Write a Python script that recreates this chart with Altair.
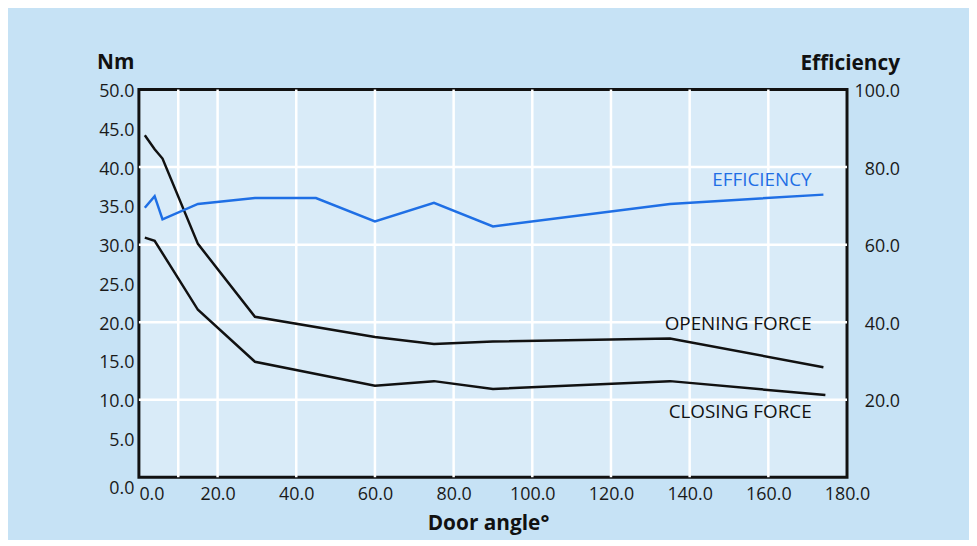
import altair as alt
import pandas as pd

# ---- data ----
open_angle = [1.5, 4, 6, 15, 29.5, 60, 75, 90, 135, 174]
opening_force = [44.1, 42.3, 41.1, 30.1, 20.7, 18.1, 17.2, 17.5, 17.9, 14.2]

close_angle = [1.5, 4, 15, 29.5, 60, 75, 90, 135, 174.5]
closing_force = [30.9, 30.5, 21.6, 14.9, 11.8, 12.4, 11.4, 12.4, 10.6]

eff_angle = [1.5, 4, 6, 15, 29.5, 45, 60, 75, 90, 135, 174]
efficiency = [69.5, 72.5, 66.5, 70.5, 72.0, 72.0, 66.0, 70.8, 64.7, 70.5, 72.9]

x_ticks = [0, 20, 40, 60, 80, 100, 120, 140, 160, 180]
x_grid = [10, 20, 40, 60, 80, 100, 120, 140, 160]
nm_ticks = [0, 5, 10, 15, 20, 25, 30, 35, 40, 45, 50]
nm_grid = [10, 20, 30, 40]
eff_ticks = [20, 40, 60, 80, 100]

series_labels = ["EFFICIENCY", "OPENING FORCE", "CLOSING FORCE"]
label_angle = [171, 171, 171]
label_nm = [37.5, 19.05, 7.7]
label_color = ["#1f6fe5", "#111111", "#111111"]

FONT = "Open Sans"
BLUE = "#1f6fe5"

df_open = pd.DataFrame({"angle": open_angle, "nm": opening_force})
df_close = pd.DataFrame({"angle": close_angle, "nm": closing_force})
df_eff = pd.DataFrame({"angle": eff_angle, "eff": efficiency})
df_gx = pd.DataFrame({"angle": x_grid})
df_gy = pd.DataFrame({"nm": nm_grid})
df_lab = pd.DataFrame({"label": series_labels, "angle": label_angle,
                       "nm": label_nm, "color": label_color})

x_scale = alt.Scale(domain=[0, 180], nice=False, zero=False)
nm_scale = alt.Scale(domain=[0, 50], nice=False)
eff_scale = alt.Scale(domain=[0, 100], nice=False)

x_axis = alt.Axis(
    values=x_ticks, format=".1f", grid=False, domain=False, ticks=False,
    labelFont=FONT, labelFontSize=18, labelColor="#1a1a1a",
    labelPadding=8, labelBaseline="top",
    labelAlign={"expr": "datum.value === 0 ? 'left' : 'center'"},
    title="Door angle°", titleFont=FONT, titleFontSize=21, titleFontWeight="bold",
    titleColor="#111111", titleAngle=0, titleAlign="center",
    titleBaseline="alphabetic", titleX=352, titleY=53,
)

nm_axis = alt.Axis(
    values=nm_ticks, format=".1f", grid=False, domain=False, ticks=False,
    labelFont=FONT, labelFontSize=18, labelColor="#1a1a1a", labelPadding=5,
    labelBaseline={"expr": "datum.value === 0 ? 'top' : 'middle'"},
    labelOffset=2,
    title="Nm", titleFont=FONT, titleFontSize=21, titleFontWeight="bold",
    titleColor="#111111", titleAngle=0, titleAlign="right",
    titleBaseline="alphabetic", titleX=-5, titleY=-21,
)

eff_axis = alt.Axis(
    orient="right", values=eff_ticks, format=".1f", grid=False, domain=False,
    ticks=False, labelFont=FONT, labelFontSize=18, labelColor="#1a1a1a",
    labelAlign="right", labelPadding=53, labelBaseline="middle", labelOffset=2,
    title="Efficiency", titleFont=FONT, titleFontSize=21, titleFontWeight="bold",
    titleColor="#111111", titleAngle=0, titleAlign="right",
    titleBaseline="alphabetic", titleX=53, titleY=-20,
)

X = alt.X("angle:Q", scale=x_scale, axis=x_axis)
Y_NM = alt.Y("nm:Q", scale=nm_scale, axis=nm_axis)

grid_v = alt.Chart(df_gx).mark_rule(color="white", strokeWidth=2.5).encode(x=X)
grid_h = alt.Chart(df_gy).mark_rule(color="white", strokeWidth=2.5).encode(y=Y_NM)
line_open = alt.Chart(df_open).mark_line(color="#111111", strokeWidth=2.5).encode(
    x=X, y=Y_NM
)
line_close = alt.Chart(df_close).mark_line(color="#111111", strokeWidth=2.5).encode(
    x=X, y=Y_NM
)
labels = alt.Chart(df_lab).mark_text(
    align="right", baseline="alphabetic", font=FONT, fontSize=19
).encode(
    x=X,
    y=Y_NM,
    text="label:N",
    color=alt.Color("color:N", scale=None, legend=None),
)

left = alt.layer(grid_v, grid_h, line_open, line_close, labels)

line_eff = alt.Chart(df_eff).mark_line(color=BLUE, strokeWidth=2.5).encode(
    x=X,
    y=alt.Y("eff:Q", scale=eff_scale, axis=eff_axis),
)

chart = (
    alt.layer(left, line_eff)
    .resolve_scale(y="independent")
    .properties(
        width=714, height=391,
        autosize=alt.AutoSizeParams(type="none"),
        padding={"left": 132, "top": 80, "right": 123, "bottom": 61},
        background="#c6e2f5",
    )
    .configure_view(fill="#d9ebf8", stroke="#111111", strokeWidth=3)
)

chart.save("out.html", embed_options={"renderer": "svg", "actions": False})
